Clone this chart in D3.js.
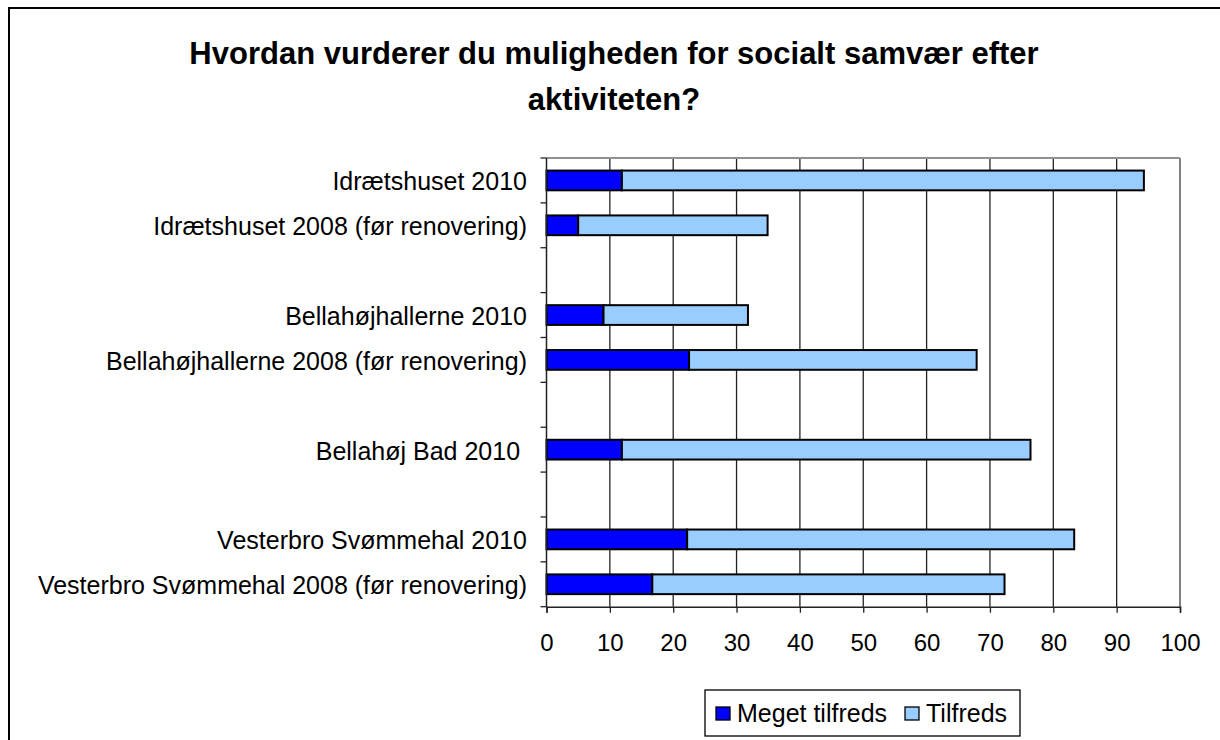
<!DOCTYPE html>
<html>
<head>
<meta charset="utf-8">
<script src="https://cdn.jsdelivr.net/npm/d3@7"></script>
<style>
  html, body { margin: 0; padding: 0; background: #fff; }
  text { font-family: "Liberation Sans", Arial, sans-serif; }
</style>
</head>
<body>
<div id="chart"></div>
<script>
const WIDTH = 1220;
const HEIGHT = 740;

// categories top to bottom, blank entries are the gaps between venues
const categories = [
    "Idrætshuset 2010",
    "Idrætshuset 2008 (før renovering)",
    "",
    "Bellahøjhallerne 2010",
    "Bellahøjhallerne 2008 (før renovering)",
    " ",
    "Bellahøj Bad 2010 ",
    "  ",
    "Vesterbro Svømmehal 2010",
    "Vesterbro Svømmehal 2008 (før renovering)"
];
const megetTilfreds = [11.9, 5.0, null, 9.0, 22.5, null, 11.9, null, 22.2, 16.7];
const tilfreds = [82.4, 29.9, null, 22.8, 45.4, null, 64.5, null, 61.1, 55.6];
const seriesNames = ["Meget tilfreds", "Tilfreds"];
const seriesColors = ["#0000ff", "#99ccff"];
const xTicks = [0, 10, 20, 30, 40, 50, 60, 70, 80, 90, 100];

function draw(){
    let svg = d3.select("#chart")
        .append("svg")
        .attr("width", WIDTH)
        .attr("height", HEIGHT);

    // outer chart frame
    svg.append("rect")
        .attr("x", 9).attr("y", 8)
        .attr("width", 1230).attr("height", 760)
        .style("fill", "none")
        .style("stroke", "black")
        .style("stroke-width", 2);

    svg.append("text")
        .attr("x", 614).attr("y", 64)
        .attr("text-anchor", "middle")
        .style("font-size", "31px")
        .style("font-weight", "bold")
        .text("Hvordan vurderer du muligheden for socialt samvær efter");
    svg.append("text")
        .attr("x", 614).attr("y", 110)
        .attr("text-anchor", "middle")
        .style("font-size", "31px")
        .style("font-weight", "bold")
        .text("aktiviteten?");

    let left = 546.5, right = 1180, top = 158, bottom = 606.7;

    let x = d3.scaleLinear().domain([0, 100]).range([left, right]);
    let y = d3.scaleBand().domain(categories).range([top, bottom]).paddingInner(0.56).paddingOuter(0.28);
    let slot = (bottom - top) / categories.length;

    // gridlines
    svg.append("g")
        .selectAll("line")
        .data(xTicks.slice(1))
        .enter()
        .append("line")
        .attr("x1", d => x(d)).attr("x2", d => x(d))
        .attr("y1", top).attr("y2", bottom)
        .style("stroke", d => d === 100 ? "#808080" : "#222")
        .style("stroke-width", d => d === 100 ? 2 : 1.3);

    // top border of plot area
    svg.append("line")
        .attr("x1", left).attr("x2", right)
        .attr("y1", top).attr("y2", top)
        .style("stroke", "#909090")
        .style("stroke-width", 2);

    // stacked bars
    let rows = categories.map((c, i) => ({cat: c, a: megetTilfreds[i], b: tilfreds[i]}))
        .filter(r => r.a !== null);

    let bars = svg.append("g");
    rows.forEach(r => {
        bars.append("rect")
            .attr("x", x(0))
            .attr("y", y(r.cat))
            .attr("width", x(r.a) - x(0))
            .attr("height", y.bandwidth())
            .style("fill", seriesColors[0])
            .style("stroke", "black")
            .style("stroke-width", 2);
        bars.append("rect")
            .attr("x", x(r.a))
            .attr("y", y(r.cat))
            .attr("width", x(r.a + r.b) - x(r.a))
            .attr("height", y.bandwidth())
            .style("fill", seriesColors[1])
            .style("stroke", "black")
            .style("stroke-width", 2);
    });

    // x axis
    let xAxis = svg.append("g")
        .attr("transform", `translate(0,${bottom})`)
        .call(d3.axisBottom(x).tickValues(xTicks).tickSize(6).tickPadding(21));
    xAxis.select(".domain").style("stroke", "#222").style("stroke-width", 1.5);
    xAxis.selectAll(".tick line").style("stroke", "#222").style("stroke-width", 1.3);
    xAxis.selectAll(".tick text")
        .style("font-size", "24px")
        .style("font-family", "'Liberation Sans', Arial, sans-serif")
        .style("fill", "black");

    // y axis line and boundary ticks
    svg.append("line")
        .attr("x1", left).attr("x2", left)
        .attr("y1", top).attr("y2", bottom)
        .style("stroke", "#222")
        .style("stroke-width", 1.5);
    svg.append("g")
        .selectAll("line")
        .data(d3.range(categories.length + 1))
        .enter()
        .append("line")
        .attr("x1", left - 6).attr("x2", left)
        .attr("y1", i => top + i * slot).attr("y2", i => top + i * slot)
        .style("stroke", "#222")
        .style("stroke-width", 1.3);

    // category labels
    svg.append("g")
        .selectAll("text")
        .data(categories)
        .enter()
        .append("text")
        .attr("x", 527)
        .attr("y", d => y(d) + y.bandwidth() / 2)
        .attr("dy", "0.4em")
        .attr("text-anchor", "end")
        .style("font-size", "25px")
        .style("white-space", "pre")
        .text(d => d.trim() === "" ? "" : d);

    // legend
    let legend = svg.append("g");
    legend.append("rect")
        .attr("x", 705).attr("y", 690)
        .attr("width", 315).attr("height", 46)
        .style("fill", "white")
        .style("stroke", "black")
        .style("stroke-width", 1.3);
    let legendX = [716, 905];
    seriesNames.forEach((name, i) => {
        legend.append("rect")
            .attr("x", legendX[i]).attr("y", 707)
            .attr("width", 14).attr("height", 13)
            .style("fill", seriesColors[i])
            .style("stroke", "black")
            .style("stroke-width", 1.3);
        legend.append("text")
            .attr("x", legendX[i] + 21).attr("y", 722)
            .style("font-size", "25px")
            .text(name);
    });
}

window.addEventListener("load", draw);
</script>
</body>
</html>
